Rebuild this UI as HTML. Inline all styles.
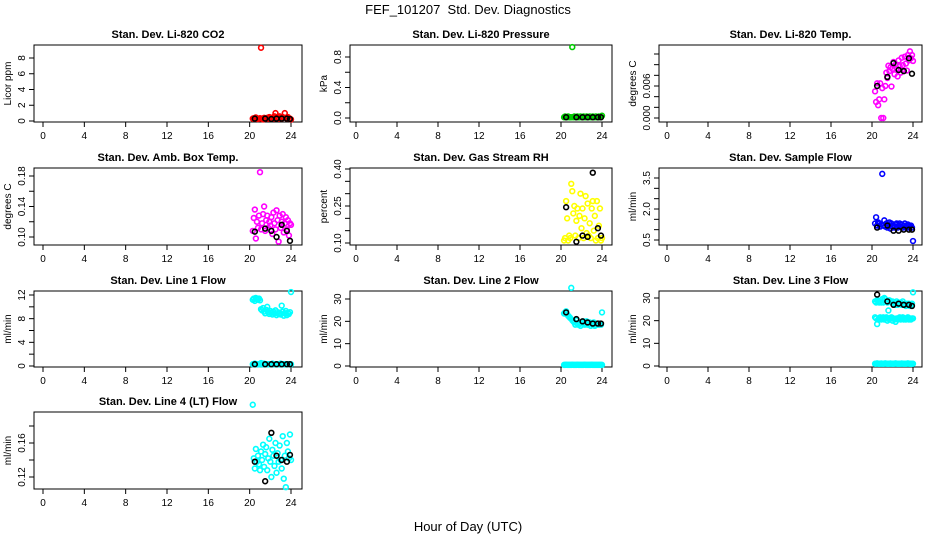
<!DOCTYPE html>
<html><head><meta charset="utf-8"><style>
html,body{margin:0;padding:0;background:#fff;}
svg{display:block;font-family:"Liberation Sans",Arial,sans-serif;}
</style></head><body>
<svg id="chart" width="936" height="540" viewBox="0 0 936 540" xmlns="http://www.w3.org/2000/svg">
<rect width="936" height="540" fill="#fff"/>
<text x="468" y="14" font-size="13" text-anchor="middle">FEF_101207&#160; Std. Dev. Diagnostics</text>
<text x="468" y="531" font-size="13" text-anchor="middle">Hour of Day (UTC)</text>
<g id="panels"></g>
</svg>
<script>
// shared hour values (colored series)
const HOURS = [20.3,20.4,20.5,20.6,20.7,20.8,20.9,21.0,21.1,21.2,21.3,21.4,21.5,21.6,21.7,21.8,21.9,22.0,22.1,22.2,22.3,22.4,22.5,22.6,22.7,22.8,22.9,23.0,23.1,23.2,23.3,23.4,23.5,23.6,23.7,23.8,23.9,24.0];
// hour values for black (reference) series
const BH = [20.5,21.5,22.1,22.6,23.1,23.6,23.9];
const XTICKS = [0,4,8,12,16,20,24];

const co2 = [0.3,0.35,0.3,0.45,0.3,0.25,0.3,0.35,9.3,0.3,0.2,0.4,0.3,0.35,0.4,0.3,0.5,0.3,0.4,0.35,0.3,0.6,1.0,0.4,0.5,0.3,0.6,0.4,0.3,0.5,0.4,1.0,0.4,0.3,0.5,0.3,0.3,0.2];
const co2K = [0.3,0.3,0.25,0.3,0.3,0.3,0.25];
const pres = [0.01,0.02,0.01,0.01,0.02,0.01,0.01,0.01,0.93,0.01,0.02,0.01,0.01,0.02,0.01,0.01,0.02,0.01,0.01,0.02,0.01,0.01,0.02,0.01,0.01,0.02,0.01,0.01,0.02,0.01,0.01,0.02,0.01,0.01,0.02,0.01,0.01,0.03];
const presK = [0.01,0.01,0.01,0.01,0.01,0.01,0.01];
const temp = [0.005,0.003,0.0065,0.0024,0.0035,0.0065,0.0,0.0056,0.0,0.0035,0.006,0.0085,0.0075,0.0098,0.0088,0.0095,0.0059,0.0092,0.0105,0.0082,0.01,0.0093,0.0078,0.0108,0.0097,0.0085,0.0113,0.0099,0.0088,0.0115,0.0102,0.0089,0.0118,0.0108,0.0125,0.0112,0.0118,0.0107];
const tempK = [0.006,0.0077,0.0103,0.009,0.0088,0.0112,0.0083];
const amb = [0.108,0.125,0.136,0.098,0.12,0.112,0.128,0.185,0.11,0.118,0.13,0.14,0.108,0.122,0.128,0.112,0.12,0.115,0.126,0.104,0.132,0.118,0.11,0.135,0.122,0.094,0.128,0.112,0.12,0.13,0.106,0.118,0.126,0.11,0.122,0.102,0.118,0.116];
const ambK = [0.107,0.111,0.108,0.1,0.116,0.108,0.095];
const rh = [0.11,0.12,0.27,0.2,0.11,0.13,0.12,0.34,0.31,0.22,0.25,0.13,0.19,0.24,0.12,0.21,0.3,0.16,0.24,0.12,0.2,0.29,0.14,0.26,0.13,0.18,0.12,0.24,0.27,0.15,0.21,0.11,0.27,0.12,0.17,0.24,0.11,0.12];
const rhK = [0.245,0.105,0.13,0.125,0.385,0.16,0.13];
const flow = [1.3,1.6,1.2,1.35,1.3,1.15,1.25,3.7,1.2,1.45,1.15,1.3,1.1,1.25,1.35,1.05,1.3,1.15,1.2,1.1,1.25,1.3,1.1,1.2,1.3,1.15,1.25,1.1,1.2,1.3,1.1,1.2,1.25,1.1,1.15,1.2,1.1,0.45];
const flowK = [1.1,1.2,0.95,0.95,1.0,1.0,1.0];
const l1a = [11.2,11.4,11.0,11.5,11.3,11.2,11.4,11.1,9.6,9.4,9.8,9.2,8.9,9.5,10.0,9.1,8.8,9.3,9.0,8.7,9.2,8.9,9.4,8.6,9.1,8.8,9.0,8.7,10.2,9.2,8.5,8.9,9.3,8.6,9.0,8.8,9.1,12.5];
const l1b = [0.3,0.3,0.4,0.3,0.3,0.3,0.3,0.3,0.5,0.3,0.3,0.4,0.3,0.3,0.3,0.3,0.3,0.3,0.3,0.4,0.3,0.3,0.3,0.3,0.3,0.3,0.3,0.4,0.3,0.3,0.3,0.3,0.3,0.3,0.3,0.3,0.3,0.3];
const l1K = [0.3,0.3,0.3,0.3,0.3,0.3,0.3];
const l2a = [23.5,24.0,24.5,23.0,22.5,22.0,21.5,35.0,20.5,20.0,19.5,18.5,20.5,19.0,18.5,19.5,18.0,19.0,19.5,20.0,18.5,19.0,20.0,18.5,19.0,19.5,18.0,19.0,18.5,19.5,18.0,19.0,18.5,19.0,18.5,19.0,18.5,24.0];
const l2b = [0.5,0.5,0.6,0.5,0.5,0.5,0.5,0.5,0.6,0.5,0.5,0.5,0.5,0.6,0.5,0.5,0.5,0.5,0.5,0.5,0.6,0.5,0.5,0.5,0.5,0.5,0.5,0.6,0.5,0.5,0.5,0.5,0.5,0.5,0.5,0.5,0.5,0.5];
const l2K = [24.0,21.0,20.0,19.5,19.0,19.0,19.0];
const l3a = [28.5,28.0,29.0,28.5,28.0,28.5,28.0,29.5,28.0,30.0,29.5,28.5,28.0,24.5,29.0,28.5,28.0,28.5,27.5,28.0,27.0,28.5,27.0,28.0,27.5,28.0,27.0,28.5,27.5,27.0,26.5,27.5,27.0,27.5,26.5,27.0,27.5,32.5];
const l3b = [21.5,21.0,18.5,20.5,21.0,21.5,20.5,21.0,21.5,20.5,21.0,21.5,20.0,21.0,20.5,21.0,21.5,20.0,21.0,20.5,19.5,21.0,20.5,21.0,21.5,20.5,21.0,21.5,20.5,21.0,20.5,21.0,21.5,20.5,21.0,20.5,21.0,21.0];
const l3c = [1.0,1.0,1.2,1.0,1.0,1.0,1.1,1.0,1.0,1.0,1.2,1.0,1.0,1.0,1.0,1.1,1.0,1.0,1.0,1.0,1.2,1.0,1.0,1.0,1.0,1.0,1.1,1.0,1.0,1.0,1.0,1.0,1.2,1.0,1.0,1.0,1.0,1.0];
const l3K = [31.5,28.5,27.0,27.5,27.0,27.0,26.5];
const lt = [0.205,0.142,0.13,0.153,0.138,0.145,0.135,0.128,0.15,0.14,0.158,0.132,0.147,0.155,0.128,0.142,0.165,0.138,0.12,0.152,0.145,0.133,0.16,0.125,0.148,0.138,0.157,0.14,0.13,0.168,0.118,0.145,0.108,0.16,0.15,0.142,0.17,0.14];
const ltK = [0.138,0.115,0.172,0.145,0.14,0.138,0.146];

const NS = "http://www.w3.org/2000/svg";
const root = document.getElementById('panels');
const COLS = [{x0:43,x24:291,bl:34,br:302},{x0:356,x24:602,bl:350,br:612},{x0:667,x24:913,bl:659,br:922}];
const ROWS = [{t:45,b:122},{t:168,b:245},{t:291,b:367},{t:412,b:489}];

function mk(tag, attrs, parent){
  const e=document.createElementNS(NS,tag);
  for(const k in attrs) e.setAttribute(k,attrs[k]);
  parent.appendChild(e); return e;
}

const PANELS = [
 {name:'co2',title:'Stan. Dev. Li-820 CO2',ylab:'Licor ppm',c:0,r:0,v0:0,p0:121,v1:8,p1:58,ticks:[0,2,4,6,8],labs:['0','2','4','6','8'],series:[[co2,'#ff0000']],k:co2K},
 {name:'pressure',title:'Stan. Dev. Li-820 Pressure',ylab:'kPa',c:1,r:0,v0:0,p0:118,v1:0.8,p1:57,ticks:[0,0.2,0.4,0.6,0.8],labs:['0.0','','0.4','','0.8'],series:[[pres,'#00cc00']],k:presK},
 {name:'temp',title:'Stan. Dev. Li-820 Temp.',ylab:'degrees C',c:2,r:0,v0:0,p0:118,v1:0.012,p1:54,ticks:[0,0.002,0.004,0.006,0.008,0.010,0.012],labs:['0.000','','','0.006','','',''],series:[[temp,'#ff00ff']],k:tempK},
 {name:'amb-temp',title:'Stan. Dev. Amb. Box Temp.',ylab:'degrees C',c:0,r:1,v0:0.10,p0:237,v1:0.18,p1:176,ticks:[0.10,0.12,0.14,0.16,0.18],labs:['0.10','','0.14','','0.18'],series:[[amb,'#ff00ff']],k:ambK},
 {name:'rh',title:'Stan. Dev. Gas Stream RH',ylab:'percent',c:1,r:1,v0:0.10,p0:243,v1:0.40,p1:169,ticks:[0.10,0.15,0.20,0.25,0.30,0.35,0.40],labs:['0.10','','','0.25','','','0.40'],series:[[rh,'#ffff00']],k:rhK},
 {name:'sample-flow',title:'Stan. Dev. Sample Flow',ylab:'ml/min',c:2,r:1,v0:0.5,p0:240,v1:3.5,p1:178,ticks:[0.5,1.0,1.5,2.0,2.5,3.0,3.5],labs:['0.5','','','2.0','','','3.5'],series:[[flow,'#0000ff']],k:flowK},
 {name:'line1',title:'Stan. Dev. Line 1 Flow',ylab:'ml/min',c:0,r:2,v0:0,p0:366,v1:12,p1:295,ticks:[0,2,4,6,8,10,12],labs:['0','','4','','8','','12'],series:[[l1a,'#00ffff'],[l1b,'#00ffff']],k:l1K},
 {name:'line2',title:'Stan. Dev. Line 2 Flow',ylab:'ml/min',c:1,r:2,v0:0,p0:366,v1:30,p1:299,ticks:[0,10,20,30],labs:['0','10','20','30'],series:[[l2a,'#00ffff'],[l2b,'#00ffff']],k:l2K},
 {name:'line3',title:'Stan. Dev. Line 3 Flow',ylab:'ml/min',c:2,r:2,v0:0,p0:366,v1:30,p1:298,ticks:[0,10,20,30],labs:['0','10','20','30'],series:[[l3a,'#00ffff'],[l3b,'#00ffff'],[l3c,'#00ffff']],k:l3K},
 {name:'line4',title:'Stan. Dev. Line 4 (LT) Flow',ylab:'ml/min',c:0,r:3,v0:0.12,p0:477,v1:0.18,p1:426,ticks:[0.12,0.14,0.16,0.18],labs:['0.12','','0.16',''],series:[[lt,'#00ffff']],k:ltK}
];

PANELS.forEach(P=>{
  const C=COLS[P.c], R=ROWS[P.r];
  const xs=h=>C.x0+(C.x24-C.x0)*h/24;
  const ys=v=>P.p0+(P.p1-P.p0)*(v-P.v0)/(P.v1-P.v0);
  const g=mk('g',{},root);
  
  
  const t=mk('text',{x:(C.bl+C.br)/2,y:R.t-7,'font-size':11,'font-weight':'bold','text-anchor':'middle'},g);
  t.textContent=P.title;
  
  
  const box=mk('rect',{x:C.bl,y:R.t,width:C.br-C.bl,height:R.b-R.t,fill:'none',stroke:'#000','stroke-width':1},g);
  
  
  const xa=mk('g',{},g);
  
  
  mk('line',{x1:xs(0),x2:xs(24),y1:R.b,y2:R.b,stroke:'#000'},xa);
  XTICKS.forEach(h=>{
    mk('line',{x1:xs(h),x2:xs(h),y1:R.b,y2:R.b+5,stroke:'#000'},xa);
    const l=mk('text',{x:xs(h),y:R.b+17,'font-size':10,'text-anchor':'middle'},xa);
    l.textContent=h;
    
    
  });
  const ya=mk('g',{},g);
  
  
  mk('line',{x1:C.bl,x2:C.bl,y1:ys(P.ticks[0]),y2:ys(P.ticks[P.ticks.length-1]),stroke:'#000'},ya);
  P.ticks.forEach((v,i)=>{
    const y=ys(v);
    mk('line',{x1:C.bl-5,x2:C.bl,y1:y,y2:y,stroke:'#000'},ya);
    if(P.labs[i]){
      const l=mk('text',{x:C.bl-9,y:y,'font-size':10,'text-anchor':'middle',transform:`rotate(-90 ${C.bl-9} ${y})`},ya);
      l.textContent=P.labs[i];
      
      
    }
  });
  const yl=mk('text',{x:C.bl-23,y:(R.t+R.b)/2,'font-size':10,'text-anchor':'middle',transform:`rotate(-90 ${C.bl-23} ${(R.t+R.b)/2})`},g);
  yl.textContent=P.ylab;
  
  
  P.series.forEach(([vals,col])=>{
    vals.forEach((v,i)=>{
      const c=mk('circle',{cx:xs(HOURS[i]),cy:ys(v),r:2.4,fill:'none',stroke:col,'stroke-width':1.6},g);
      
      
    });
  });
  P.k.forEach((v,i)=>{
    const c=mk('circle',{cx:xs(BH[i]),cy:ys(v),r:2.4,fill:'none',stroke:'#000','stroke-width':1.6},g);
    
    
  });
});
</script>
</body></html>
